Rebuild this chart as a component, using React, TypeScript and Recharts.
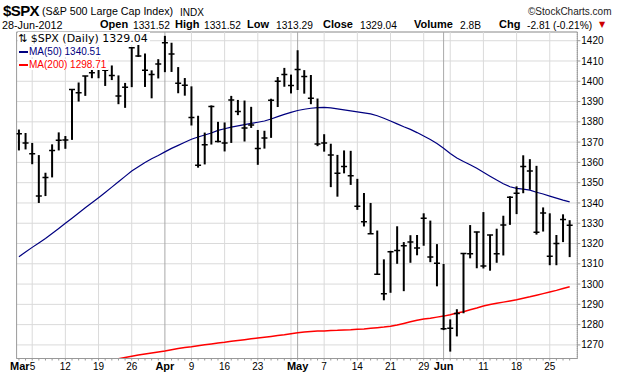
import React from 'react';
import {
  ComposedChart, XAxis, YAxis, CartesianGrid, Line, Scatter, ErrorBar,
  ReferenceLine, ReferenceArea,
} from 'recharts';

// Trading days shown (Mar 1 .. Jun 28, 2012)
const dates = [
  'Mar 1','Mar 2','Mar 5','Mar 6','Mar 7','Mar 8','Mar 9','Mar 12','Mar 13','Mar 14','Mar 15','Mar 16','Mar 19','Mar 20','Mar 21','Mar 22','Mar 23','Mar 26','Mar 27','Mar 28','Mar 29','Mar 30',
  'Apr 2','Apr 3','Apr 4','Apr 5','Apr 9','Apr 10','Apr 11','Apr 12','Apr 13','Apr 16','Apr 17','Apr 18','Apr 19','Apr 20','Apr 23','Apr 24','Apr 25','Apr 26','Apr 27','Apr 30',
  'May 1','May 2','May 3','May 4','May 7','May 8','May 9','May 10','May 11','May 14','May 15','May 16','May 17','May 18','May 21','May 22','May 23','May 24','May 25','May 29','May 30','May 31',
  'Jun 1','Jun 4','Jun 5','Jun 6','Jun 7','Jun 8','Jun 11','Jun 12','Jun 13','Jun 14','Jun 15','Jun 18','Jun 19','Jun 20','Jun 21','Jun 22','Jun 25','Jun 26','Jun 27','Jun 28',
];

const highs = [
  1376.2,1374.5,1369.6,1363.6,1354.9,1368.9,1374.8,1373.0,1396.1,1399.4,1402.6,1405.9,1409.5,1409.6,1407.8,1402.9,1399.2,1416.6,1419.2,1413.7,1405.4,1410.9,
  1422.4,1419.0,1407.0,1401.6,1397.5,1383.0,1374.7,1388.1,1380.0,1379.7,1392.8,1390.8,1390.5,1387.4,1376.0,1375.6,1391.4,1402.1,1406.6,1403.3,
  1415.3,1405.5,1403.1,1391.5,1373.9,1369.2,1363.7,1365.9,1365.7,1351.9,1344.9,1340.0,1326.4,1312.2,1316.4,1328.5,1320.7,1324.1,1324.2,1334.9,1331.3,1319.7,
  1309.9,1282.6,1287.6,1315.1,1329.1,1325.8,1335.5,1324.3,1327.3,1333.7,1343.3,1348.2,1363.5,1361.6,1358.3,1337.8,1334.9,1324.2,1334.4,1331.5,
];

const lows = [
  1365.9,1366.4,1359.1,1340.0,1343.4,1352.6,1365.9,1366.7,1371.1,1390.0,1392.8,1401.5,1401.5,1397.7,1400.6,1388.7,1386.9,1397.1,1412.0,1397.2,1391.6,1401.4,
  1404.5,1404.6,1394.1,1392.9,1378.2,1357.4,1359.0,1368.8,1369.9,1365.4,1369.6,1383.3,1370.3,1377.0,1358.8,1366.8,1372.1,1387.3,1397.3,1394.0,
  1395.7,1393.9,1388.7,1368.0,1365.3,1347.8,1343.1,1354.6,1348.9,1336.6,1328.4,1324.8,1304.9,1292.0,1295.7,1310.0,1296.5,1310.5,1314.2,1318.9,1310.8,1298.9,
  1277.3,1266.7,1274.2,1285.6,1312.7,1307.8,1307.7,1306.6,1310.5,1314.1,1329.2,1334.5,1344.8,1346.5,1324.4,1325.9,1309.3,1309.3,1320.7,1313.3,
];

const closes = [
  1374.1,1369.6,1364.3,1343.4,1352.6,1365.9,1370.9,1371.1,1396.0,1394.3,1402.6,1404.2,1406.0,1405.5,1402.9,1392.8,1397.1,1416.5,1412.5,1405.5,1403.3,1408.5,
  1419.0,1413.4,1399.0,1398.1,1382.2,1358.6,1368.7,1387.6,1370.3,1369.6,1390.8,1385.1,1376.9,1378.5,1366.9,1372.0,1390.7,1400.0,1403.4,1397.9,
  1405.8,1402.3,1391.6,1369.1,1369.6,1363.7,1354.6,1358.0,1353.4,1338.4,1330.7,1324.8,1304.9,1295.2,1316.0,1316.6,1318.9,1320.7,1317.8,1332.4,1313.3,1310.3,
  1278.0,1278.2,1285.5,1315.1,1315.0,1325.7,1308.9,1324.2,1314.9,1329.1,1342.8,1344.8,1358.0,1355.7,1325.5,1335.0,1313.7,1320.0,1331.9,1329.0,
];

const ma50 = [
  1313.5,1315.8,1318.1,1320.3,1322.5,1324.9,1327.4,1330.0,1332.5,1335.0,1337.6,1340.1,1342.6,1345.2,1347.8,1350.5,1353.1,1355.8,1357.9,1359.9,1361.8,1363.4,
  1365.2,1366.9,1368.4,1369.9,1371.4,1372.5,1373.5,1374.5,1375.8,1376.6,1377.4,1378.0,1378.6,1379.2,1379.8,1380.4,1381.4,1382.6,
  1383.7,1384.7,1385.6,1386.2,1386.7,1387.0,1387.1,1386.9,1386.4,1385.9,1385.4,1384.9,1384.4,1383.9,1383.0,1381.8,1380.4,1379.0,1377.6,1376.3,1374.7,1373.0,
  1371.3,1369.3,1367.0,1364.4,1362.2,1360.4,1358.8,1357.1,1355.1,1353.2,1351.3,1349.5,1348.0,1347.2,1346.8,1346.3,1345.3,1344.4,1343.4,1342.4,1341.4,1340.5,
];

const ma200 = [
  1257.5,1257.9,1258.3,1258.7,1259.1,1259.5,1259.9,1260.3,1260.7,1261.1,1261.5,1261.9,1262.2,1262.5,1262.8,1263.2,1263.8,1264.4,1265.0,1265.5,1266.0,1266.5,
  1267.0,1267.6,1268.2,1268.7,1269.1,1269.6,1270.1,1270.5,1270.9,1271.3,1271.8,1272.2,1272.6,1273.0,1273.4,1273.8,1274.2,1274.6,
  1275.0,1275.5,1276.0,1276.4,1276.6,1276.8,1276.9,1277.1,1277.2,1277.4,1277.5,1277.7,1277.9,1278.2,1278.5,1278.8,1279.2,1279.8,1280.6,1281.4,1282.2,1282.8,
  1283.2,1283.7,1284.2,1284.9,1285.7,1286.4,1287.3,1288.2,1289.2,1289.9,1290.5,1291.1,1291.7,1292.3,1293.0,1293.7,1294.5,1295.3,1296.1,1296.9,1297.8,1298.7,
];

const yTicks = [1270,1280,1290,1300,1310,1320,1330,1340,1350,1360,1370,1380,1390,1400,1410,1420];

const labelDates = ['Mar 5','Mar 12','Mar 19','Mar 26','Apr 2','Apr 9','Apr 16','Apr 23','May 1','May 7','May 14','May 21','May 29','Jun 1','Jun 11','Jun 18','Jun 25'];
const labelTexts = ['Mar5','12','19','26','Apr','9','16','23','May','7','14','21','29','Jun','11','18','25'];
const monthNames = ['Mar','Apr','May','Jun'];

const weekLineDates = ['Mar 5','Mar 12','Mar 19','Mar 26','Apr 9','Apr 16','Apr 23','Apr 30','May 7','May 14','May 21','May 29','Jun 4','Jun 11','Jun 18','Jun 25'];
const monthLineDates = ['Apr 2','May 1','Jun 1'];

const data = dates.map((d, i) => ({
  i,
  date: d,
  high: highs[i],
  low: lows[i],
  close: closes[i],
  ma50: ma50[i],
  ma200: ma200[i],
  range: [closes[i] - lows[i], highs[i] - closes[i]],
}));

const X_DOMAIN: [number, number] = [-0.35, 84.15];
const Y_DOMAIN: [number, number] = [1263.3, 1424.3];
const SANS = '"Liberation Sans", Arial, sans-serif';

const XTick = (props: any) => {
  const { x, y, payload } = props;
  const d = dates[payload.value];
  const k = labelDates.indexOf(d);
  if (k < 0) return <g />;
  const t = labelTexts[k];
  const m = monthNames.find((mn) => t.startsWith(mn));
  if (m && t.length > m.length) {
    return (
      <text x={x + 3} y={y} dy="0.71em" textAnchor="end" fontFamily={SANS} fontSize={10} fill="#000">
        <tspan fontWeight="bold" fontSize={11}>{m}</tspan>
        <tspan>{t.slice(m.length)}</tspan>
      </text>
    );
  }
  if (m) {
    return (
      <text x={x} y={y} dy="0.71em" textAnchor="middle" fontFamily={SANS} fontSize={11} fontWeight="bold" fill="#000">{t}</text>
    );
  }
  return (
    <text x={x} y={y} dy="0.71em" textAnchor="middle" fontFamily={SANS} fontSize={10} fill="#000">{t}</text>
  );
};

const Cross = (props: any) => {
  const { cx, cy } = props;
  if (cx == null || cy == null) return <g />;
  return <line x1={cx - 3} x2={cx + 3} y1={cy} y2={cy} stroke="#000" strokeWidth={1.5} />;
};

const headerItems = [
  { x: 100, t: 'Open', b: true }, { x: 133, t: '1331.52', b: false },
  { x: 175, t: 'High', b: true }, { x: 204, t: '1331.52', b: false },
  { x: 247, t: 'Low', b: true }, { x: 276, t: '1313.29', b: false },
  { x: 323, t: 'Close', b: true }, { x: 360, t: '1329.04', b: false },
  { x: 414, t: 'Volume', b: true }, { x: 460, t: '2.8B', b: false },
  { x: 499, t: 'Chg', b: true }, { x: 527, t: '-2.81 (-0.21%)', b: false },
];

export default function App() {
  return (
    <div style={{ position: 'absolute', left: 0, top: 0, width: 620, height: 376, background: '#fff', overflow: 'hidden', fontFamily: SANS }}>
      <ComposedChart
        width={620}
        height={376}
        data={data}
        margin={{ top: 32, right: 0, bottom: 0, left: 16.6 }}
      >
        <CartesianGrid vertical={false} stroke="#dadada" />
        {weekLineDates.map((d) => (
          <ReferenceLine key={'w' + d} x={dates.indexOf(d)} stroke="#dadada" strokeWidth={1} />
        ))}
        {monthLineDates.map((d) => (
          <ReferenceLine key={'m' + d} x={dates.indexOf(d)} stroke="#a9a9a9" strokeWidth={1} />
        ))}
        <XAxis
          dataKey="i"
          type="number"
          domain={X_DOMAIN}
          allowDataOverflow
          ticks={dates.map((_, i) => i)}
          interval={0}
          height={17.5}
          tickSize={2}
          tickMargin={2}
          tickLine={{ stroke: '#999' }}
          axisLine={{ stroke: '#999' }}
          tick={<XTick />}
        />
        <YAxis
          orientation="right"
          type="number"
          domain={Y_DOMAIN}
          allowDataOverflow
          ticks={yTicks}
          interval={0}
          width={42.7}
          tickSize={3}
          tickMargin={1}
          tickLine={{ stroke: '#999' }}
          axisLine={{ stroke: '#999', strokeDasharray: '1 1' }}
          tick={{ fontSize: 10, fill: '#000', fontFamily: SANS }}
        />
        <ReferenceArea
          x1={X_DOMAIN[0]} x2={X_DOMAIN[1]} y1={Y_DOMAIN[0]} y2={Y_DOMAIN[1]}
          fill="none" fillOpacity={0} stroke="#9a9a9a" ifOverflow="visible"
        />
        <Line dataKey="ma200" stroke="#ff0000" strokeWidth={1.5} dot={false} activeDot={false} isAnimationActive={false} />
        <Line dataKey="ma50" stroke="#000080" strokeWidth={1.2} dot={false} activeDot={false} isAnimationActive={false} />
        <Scatter dataKey="close" shape={Cross} isAnimationActive={false}>
          <ErrorBar dataKey="range" direction="y" width={0} stroke="#000" strokeWidth={2} isAnimationActive={false} />
        </Scatter>
      </ComposedChart>

      {/* Legend */}
      <div style={{ position: 'absolute', left: 18, top: 31, lineHeight: '11px' }}>
        <div>
          <span style={{ background: '#fff', fontFamily: '"DejaVu Sans", sans-serif', fontSize: 11, color: '#000', paddingRight: 2 }}>⇅ $SPX (Daily) 1329.04</span>
        </div>
        <div>
          <span style={{ background: '#fff', fontSize: 10, color: '#000080', paddingRight: 2 }}>
            <span style={{ display: 'inline-block', width: 9, height: 2, background: '#000080', verticalAlign: 'middle', marginRight: 1, marginLeft: 1 }} />MA(50) 1340.51
          </span>
        </div>
        <div>
          <span style={{ background: '#fff', fontSize: 10, color: '#ff0000', paddingRight: 2 }}>
            <span style={{ display: 'inline-block', width: 9, height: 2, background: '#ff0000', verticalAlign: 'middle', marginRight: 1, marginLeft: 1 }} />MA(200) 1298.71
          </span>
        </div>
      </div>

      {/* Header line 1 */}
      <div style={{ position: 'absolute', left: 3, top: 3, fontSize: 15, lineHeight: '15px', fontWeight: 'bold', letterSpacing: -0.6, color: '#000' }}>$SPX</div>
      <div style={{ position: 'absolute', left: 42, top: 6, fontSize: 10.7, lineHeight: '11px', color: '#000', whiteSpace: 'nowrap' }}>(S&amp;P 500 Large Cap Index)</div>
      <div style={{ position: 'absolute', left: 180, top: 6.5, fontSize: 10, lineHeight: '11px', color: '#000' }}>INDX</div>
      <div style={{ position: 'absolute', left: 528, top: 7, fontSize: 10, lineHeight: '10px', color: '#222', whiteSpace: 'nowrap' }}>©StockCharts.com</div>

      {/* Header line 2 */}
      <div style={{ position: 'absolute', left: 2, top: 19.5, fontSize: 10.8, lineHeight: '11px', color: '#000' }}>28-Jun-2012</div>
      {headerItems.map((h) => (
        <div key={h.x} style={{ position: 'absolute', left: h.x, top: h.b ? 18.7 : 19.5, fontSize: h.b ? 11 : 10.2, lineHeight: '11px', fontWeight: h.b ? 'bold' : 'normal', color: '#000', whiteSpace: 'nowrap' }}>{h.t}</div>
      ))}
      <div style={{ position: 'absolute', left: 599, top: 20, fontSize: 8, lineHeight: '10px', color: '#cc0000', fontFamily: '"DejaVu Sans", sans-serif' }}>▼</div>
    </div>
  );
}
